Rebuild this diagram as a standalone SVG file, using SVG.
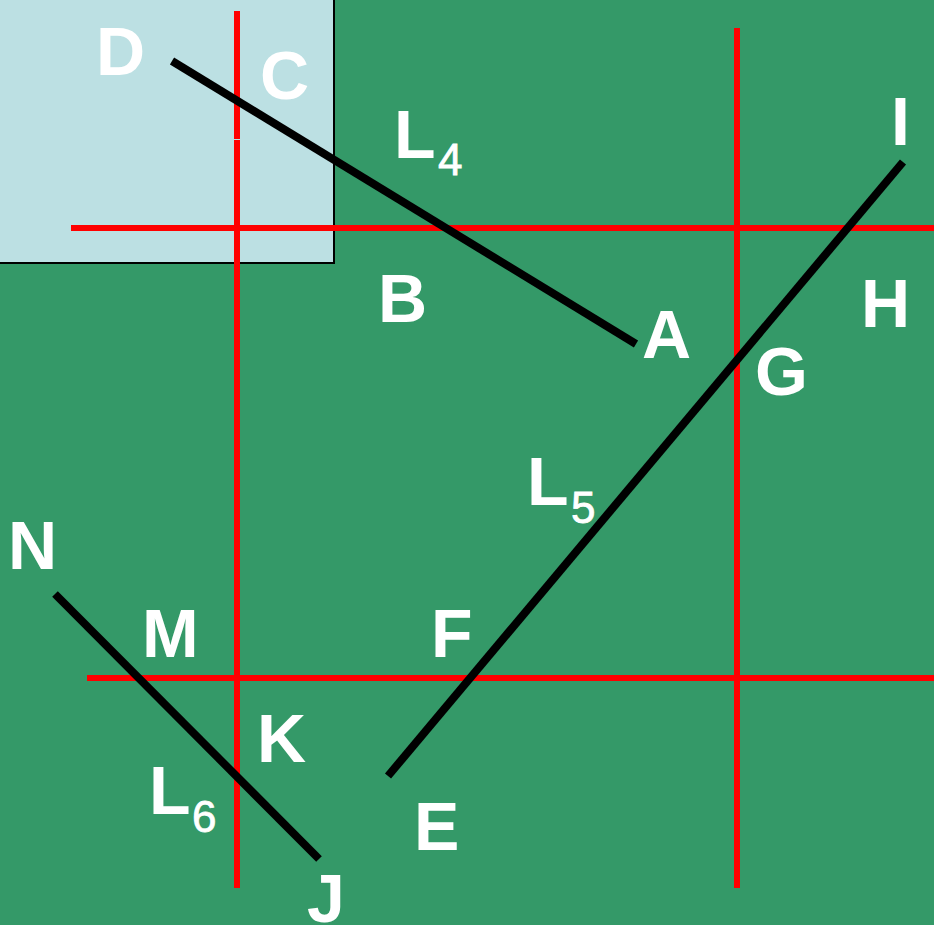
<svg xmlns="http://www.w3.org/2000/svg" width="934" height="925" viewBox="0 0 934 925">
<style>
.red{stroke:#ff0000;stroke-width:6;fill:none}
.blk{stroke:#000;stroke-width:8;fill:none}
text{font-family:"Liberation Sans",Arial,sans-serif;font-weight:bold;fill:#fff;font-size:68px}
.sub{font-size:44px;font-weight:normal;stroke:#fff;stroke-width:0.8}
</style>
<rect x="0" y="0" width="934" height="925" fill="#349968"/>
<g id="box"><rect x="-2" y="-2" width="336" height="265" fill="#bce0e3" stroke="#000" stroke-width="2"/></g>
<g id="grid">
<line class="red" x1="237" y1="11" x2="237" y2="139"/>
<line class="red" x1="237" y1="140" x2="237" y2="888"/>
<line class="red" x1="737" y1="28" x2="737" y2="888"/>
<line class="red" x1="71" y1="228" x2="934" y2="228"/>
<line class="red" x1="87" y1="678" x2="934" y2="678"/>
</g>
<g id="connectors">
<line id="L4" class="blk" x1="172" y1="61" x2="636" y2="344"/>
<line id="L5" class="blk" x1="903" y1="162" x2="388" y2="776"/>
<line id="L6" class="blk" x1="55" y1="594" x2="319" y2="859"/>
</g>
<g id="labels">
<g id="D"><text x="96" y="75">D</text></g>
<g id="C"><text x="260" y="99">C</text></g>
<g id="L4label"><text x="394" y="158">L</text><text class="sub" x="438" y="175">4</text></g>
<g id="B"><text x="378" y="322">B</text></g>
<g id="A"><text x="642" y="358">A</text></g>
<g id="G"><text x="755" y="395">G</text></g>
<g id="H"><text x="861" y="327">H</text></g>
<g id="I"><text x="891" y="145">I</text></g>
<g id="L5label"><text x="527" y="505">L</text><text class="sub" x="571" y="523">5</text></g>
<g id="N"><text x="8" y="569">N</text></g>
<g id="M"><text x="142" y="657">M</text></g>
<g id="F"><text x="431" y="657">F</text></g>
<g id="K"><text x="257" y="762">K</text></g>
<g id="L6label"><text x="149" y="814">L</text><text class="sub" x="192" y="832">6</text></g>
<g id="E"><text x="414" y="850">E</text></g>
<g id="J"><text x="307" y="922">J</text></g>
</g>
</svg>
